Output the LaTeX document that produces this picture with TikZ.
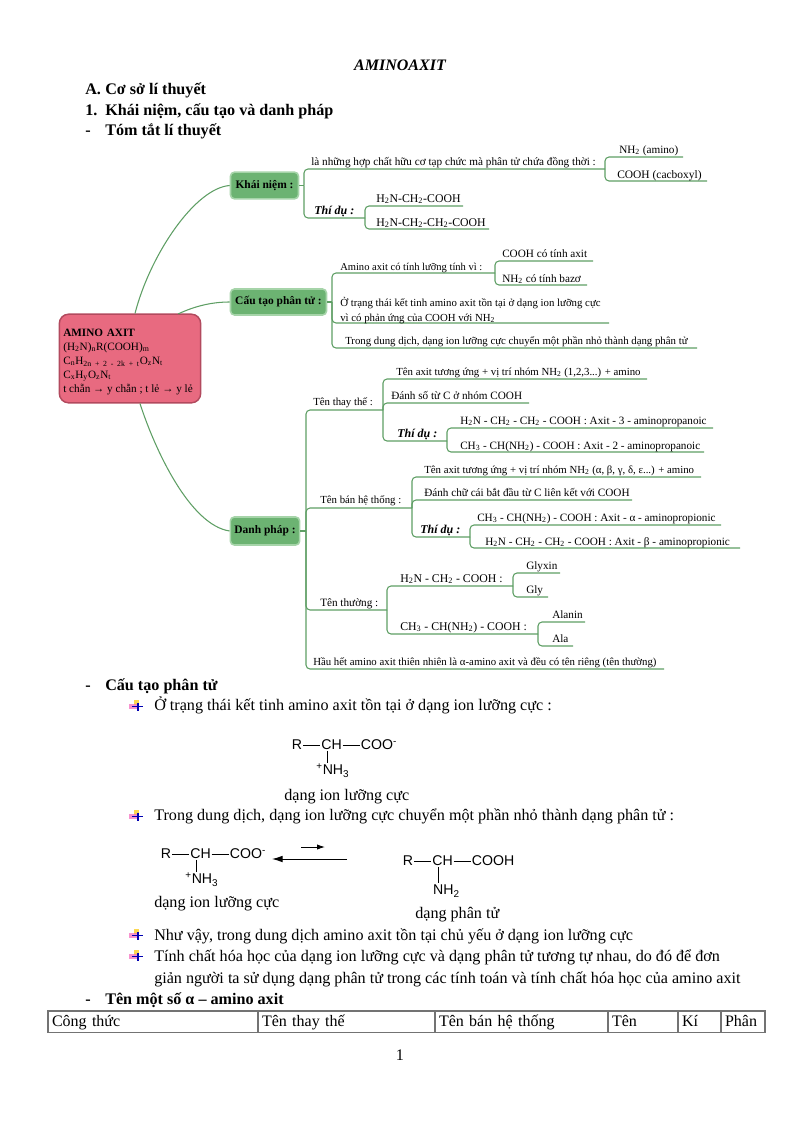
\documentclass[tikz,border=0pt]{standalone}
\usepackage{fontspec}
\setmainfont{Liberation Serif}
\newfontfamily\chemfont{Liberation Sans}
\usetikzlibrary{positioning, arrows.meta, shapes.geometric}
\definecolor{mapgreen}{HTML}{5E9E64}
\definecolor{topicfill}{HTML}{6CB372}
\definecolor{topicrim}{HTML}{A6D4A9}
\definecolor{rootfill}{HTML}{E86A80}
\definecolor{rootrim}{HTML}{B24A5E}

\begin{document}
\begin{tikzpicture}[
        x=0.75pt, y=-0.75pt,
        node distance=6pt and 6pt,
        topic/.style={rectangle, draw=topicrim, fill=topicfill, line width=1.2pt, rounded corners=3pt, inner sep=0pt, font=\fontsize{8.6}{10}\selectfont\bfseries},
        root/.style={rectangle, draw=rootrim, fill=rootfill, line width=1.1pt, rounded corners=7pt, minimum width=106pt, minimum height=66.5pt, inner sep=3pt, align=left, text width=100pt, font=\fontsize{8.4}{10.5}\selectfont},
        link/.style={draw=mapgreen, line width=0.8pt, rounded corners=3pt},
        curve/.style={draw=mapgreen, line width=0.8pt},
        leaf/.style={anchor=base west, inner sep=0pt, font=\fontsize{8.4}{11}\selectfont},
        narrowleaf/.style={leaf, font=\fontsize{8.1}{11}\selectfont},
        chemleaf/.style={leaf, font=\fontsize{8.85}{11}\selectfont},
        eg/.style={leaf, font=\fontsize{9}{11}\selectfont\bfseries\itshape},
        body/.style={anchor=base west, inner sep=0pt, font=\fontsize{12.1}{14}\selectfont},
        head/.style={body, font=\fontsize{12.1}{14}\selectfont\bfseries},
        chem/.style={inner sep=0.5pt, font=\fontsize{10.6}{12}\chemfont},
        bond/.style={line width=0.5pt},
        eqarrow/.style={-{Latex[length=8pt, width=5pt]}, line width=0.7pt},
        cell/.style={draw=black!55, line width=1pt, outer sep=0pt, inner xsep=3pt, inner ysep=0pt, text width=#1, text height=9.5pt, text depth=3pt, minimum height=16pt, align=left, font=\fontsize{12}{14}\selectfont},
        tiny mark/.pic={
            \fill[yellow!60!orange, opacity=0.7] (-4,-7) rectangle (1,-2);
            \fill[magenta!60, opacity=0.7] (-9,-3) rectangle (0,2.5);
            \fill[blue!70!black] (-0.8,-4) rectangle (0.8,4);
            \fill[blue!70!black] (-6,-0.6) rectangle (5,0.6);
        }
    ]
    \useasboundingbox (0,0) rectangle (800,1131);

    % Page title and headings
    \node[head, anchor=base, font=\fontsize{12}{14}\selectfont\bfseries\itshape] (title) at (400,70) {AMINOAXIT};
    \node[head] (numA) at (85,94) {A.};
    \node[head] (headA) at (105,94) {Cơ sở lí thuyết};
    \node[head] (num1) at (85,115) {1.};
    \node[head] (head1) at (105,115) {Khái niệm, cấu tạo và danh pháp};
    \node[head] (dash1) at (85,135) {-};
    \node[head] (head2) at (105,135) {Tóm tắt lí thuyết};

    % Centre of the map
    \node[root] (amino) at (130,358.5) {\rule{0pt}{10.5pt}\textbf{AMINO AXIT}\\(H\textsubscript{2}N)\textsubscript{n}R(COOH)\textsubscript{m}\\C\textsubscript{n}H\textsubscript{2n + 2 - 2k + t}O\textsubscript{z}N\textsubscript{t}\\C\textsubscript{x}H\textsubscript{y}O\textsubscript{z}N\textsubscript{t}\\\mbox{\spaceskip=0.25em t chẵn → y chẵn ; t lẻ → y lẻ}};

    % Three topics
    \node[topic, minimum width=51pt, minimum height=20pt] (khainiem) at (264.5,185.5) {Khái niệm :};
    \node[topic, minimum width=72pt, minimum height=19.5pt] (cautao) at (278.5,302) {Cấu tạo phân tử :};
    \node[topic, minimum width=52pt, minimum height=21pt] (danhphap) at (265,531) {Danh pháp :};

    \draw[curve] (amino.north) ++(5,0) .. controls (150,255) and (195,188) .. (khainiem.west);
    \draw[curve] (178,314) .. controls (195,306) and (212,302) .. (cautao.west);
    \draw[curve] (amino.south) ++(10,0) .. controls (155,450) and (190,525) .. (danhphap.west);

    % Khai niem
    \coordinate (kn spine) at (304,185.5);
    \coordinate (kn a) at (605,169);
    \coordinate (kn b) at (365,218);
    \coordinate (nh2 end) at (683,157);
    \coordinate (cooh end) at (707,181);
    \coordinate (gly1 end) at (463,206);
    \coordinate (gly2 end) at (489,229);
    \draw[link] (khainiem.east) -- (kn spine);
    \draw[link] (kn spine) |- (kn a);
    \draw[link] (kn spine) |- (kn b);
    \draw[link] (kn a) |- (nh2 end);
    \draw[link] (kn a) |- (cooh end);
    \draw[link] (kn b) |- (gly1 end);
    \draw[link] (kn b) |- (gly2 end);
    \node[leaf] (kn a txt) at (311,165) {là những hợp chất hữu cơ tạp chức mà phân tử chứa đồng thời :};
    \node[leaf] (nh2 txt) at (619,153) {NH\textsubscript{2} (amino)};
    \node[leaf, font=\fontsize{8.6}{11}\selectfont] (cooh txt) at (617,178) {COOH (cacboxyl)};
    \node[eg] (kn b txt) at (314,214) {Thí dụ :};
    \node[chemleaf] (gly1 txt) at (376,202) {H\textsubscript{2}N-CH\textsubscript{2}-COOH};
    \node[chemleaf] (gly2 txt) at (376,226) {H\textsubscript{2}N-CH\textsubscript{2}-CH\textsubscript{2}-COOH};

    % Cau tao phan tu
    \coordinate (ct spine) at (332,302);
    \coordinate (ct a) at (495,273);
    \coordinate (ct b) at (609,323);
    \coordinate (ct c) at (697,348);
    \coordinate (axit end) at (593,261);
    \coordinate (bazo end) at (587,285);
    \draw[link] (cautao.east) -- (ct spine);
    \draw[link] (ct spine) |- (ct a);
    \draw[link] (ct spine) -- (ct spine |- ct b) -- (ct b);
    \draw[link] (ct spine) |- (ct c);
    \draw[link] (ct a) |- (axit end);
    \draw[link] (ct a) |- (bazo end);
    \node[narrowleaf, font=\fontsize{7.9}{11}\selectfont] (ct a txt) at (340,270) {Amino axit có tính lưỡng tính vì :};
    \node[leaf] (axit txt) at (502,257) {COOH có tính axit};
    \node[leaf] (bazo txt) at (502,282) {NH\textsubscript{2} có tính bazơ};
    \node[narrowleaf] (ct b txt) at (340,306) {Ở trạng thái kết tinh amino axit tồn tại ở dạng ion lưỡng cực};
    \node[narrowleaf] (ct b txt2) at (340,321) {vì có phản ứng của COOH với NH\textsubscript{2}};
    \node[narrowleaf] (ct c txt) at (345,344) {Trong dung dịch, dạng ion lưỡng cực chuyển một phần nhỏ thành dạng phân tử};

    % Danh phap
    \coordinate (dp spine) at (306,531);
    \coordinate (tt) at (383,410);
    \coordinate (bh) at (412,508);
    \coordinate (th) at (387,610);
    \coordinate (hh end) at (664,669);
    \draw[link] (danhphap.east) -- (dp spine);
    \draw[link] (dp spine) |- (tt);
    \draw[link] (dp spine) -- (dp spine |- bh) -- (bh);
    \draw[link] (dp spine) -- (dp spine |- th) -- (th);
    \draw[link] (dp spine) |- (hh end);
    \node[narrowleaf] (tt txt) at (313,405) {Tên thay thế :};
    \node[narrowleaf] (bh txt) at (320,503) {Tên bán hệ thống :};
    \node[leaf] (th txt) at (320,606) {Tên thường :};
    \node[narrowleaf] (hh txt) at (313,665) {Hầu hết amino axit thiên nhiên là α-amino axit và đều có tên riêng (tên thường)};

    % Ten thay the
    \coordinate (tt a end) at (647,379);
    \coordinate (tt b end) at (529,403);
    \coordinate (tt c) at (447,441);
    \coordinate (tt c1 end) at (713,428);
    \coordinate (tt c2 end) at (704,452);
    \draw[link] (tt) |- (tt a end);
    \draw[link] (tt) -- (tt |- tt b end) -- (tt b end);
    \draw[link] (tt) |- (tt c);
    \draw[link] (tt c) |- (tt c1 end);
    \draw[link] (tt c) |- (tt c2 end);
    \node[narrowleaf] (tt a txt) at (396,375) {Tên axit tương ứng + vị trí nhóm NH\textsubscript{2} (1,2,3...) + amino};
    \node[leaf] (tt b txt) at (391,399) {Đánh số từ C ở nhóm COOH};
    \node[eg] (tt c txt) at (397,437) {Thí dụ :};
    \node[leaf] (tt c1 txt) at (460,424) {H\textsubscript{2}N - CH\textsubscript{2} - CH\textsubscript{2} - COOH : Axit - 3 - aminopropanoic};
    \node[leaf] (tt c2 txt) at (460,449) {CH\textsubscript{3} - CH(NH\textsubscript{2}) - COOH : Axit - 2 - aminopropanoic};

    % Ten ban he thong
    \coordinate (bh a end) at (701,477);
    \coordinate (bh b end) at (632,500);
    \coordinate (bh c) at (470,537);
    \coordinate (bh c1 end) at (721,525);
    \coordinate (bh c2 end) at (740,548);
    \draw[link] (bh) |- (bh a end);
    \draw[link] (bh) -- (bh |- bh b end) -- (bh b end);
    \draw[link] (bh) |- (bh c);
    \draw[link] (bh c) |- (bh c1 end);
    \draw[link] (bh c) |- (bh c2 end);
    \node[narrowleaf] (bh a txt) at (424,473) {Tên axit tương ứng + vị trí nhóm NH\textsubscript{2} (α, β, γ, δ, ε...) + amino};
    \node[leaf] (bh b txt) at (424,496) {Đánh chữ cái bắt đầu từ C liên kết với COOH};
    \node[eg] (bh c txt) at (420,533) {Thí dụ :};
    \node[leaf] (bh c1 txt) at (477,521) {CH\textsubscript{3} - CH(NH\textsubscript{2}) - COOH : Axit - α - aminopropionic};
    \node[leaf] (bh c2 txt) at (485,545) {H\textsubscript{2}N - CH\textsubscript{2} - CH\textsubscript{2} - COOH : Axit - β - aminopropionic};

    % Ten thuong
    \coordinate (th a) at (513,586);
    \coordinate (th b) at (538,634);
    \coordinate (glyxin end) at (560,573);
    \coordinate (gly end) at (548,597);
    \coordinate (alanin end) at (585,622);
    \coordinate (ala end) at (573,646);
    \draw[link] (th) |- (th a);
    \draw[link] (th) |- (th b);
    \draw[link] (th a) |- (glyxin end);
    \draw[link] (th a) |- (gly end);
    \draw[link] (th b) |- (alanin end);
    \draw[link] (th b) |- (ala end);
    \node[chemleaf] (th a txt) at (400,582) {H\textsubscript{2}N - CH\textsubscript{2} - COOH :};
    \node[chemleaf] (th b txt) at (400,630) {CH\textsubscript{3} - CH(NH\textsubscript{2}) - COOH :};
    \node[leaf] (glyxin txt) at (526,569) {Glyxin};
    \node[leaf] (gly txt) at (526,593) {Gly};
    \node[leaf] (alanin txt) at (552,618) {Alanin};
    \node[leaf] (ala txt) at (552,642) {Ala};

    % Section on structure
    \node[head] (dash2) at (85,690) {-};
    \node[head] (head3) at (105,690) {Cấu tạo phân tử};
    \pic at (138,706.5) {tiny mark};
    \node[body] (p1) at (154,710) {Ở trạng thái kết tinh amino axit tồn tại ở dạng ion lưỡng cực :};

    % Ion form, centre
    \node[chem] (r1) at (297,745) {R};
    \node[chem, right=13pt of r1] (ch1) {CH};
    \node[chem, right=13pt of ch1] (coo1) {COO\textsuperscript{-}};
    \node[chem, below=9pt of ch1, xshift=1pt] (nh1) {\textsuperscript{+}NH\textsubscript{3}};
    \draw[bond] (r1) -- (ch1);
    \draw[bond] (ch1) -- (coo1);
    \draw[bond] ([xshift=-3.5pt]ch1.south) -- +(0,12);
    \node[body] (ion1) at (284,800) {dạng ion lưỡng cực};

    \pic at (138,816.5) {tiny mark};
    \node[body] (p2) at (154,820) {Trong dung dịch, dạng ion lưỡng cực chuyển một phần nhỏ thành dạng phân tử :};

    % Ion form, left
    \node[chem] (r2) at (166,854) {R};
    \node[chem, right=13pt of r2] (ch2) {CH};
    \node[chem, right=13pt of ch2] (coo2) {COO\textsuperscript{-}};
    \node[chem, below=9pt of ch2, xshift=1pt] (nh2) {\textsuperscript{+}NH\textsubscript{3}};
    \draw[bond] (r2) -- (ch2);
    \draw[bond] (ch2) -- (coo2);
    \draw[bond] ([xshift=-3.5pt]ch2.south) -- +(0,12);
    \node[body] (ion2) at (154,907) {dạng ion lưỡng cực};

    % Equilibrium arrows
    \coordinate (eq a) at (347,859);
    \coordinate (eq b) at (272,859);
    \coordinate (eq c) at (301,847);
    \coordinate (eq d) at (325,847);
    \draw[eqarrow] (eq a) -- (eq b);
    \draw[eqarrow, {-Latex[length=6pt, width=4pt]}] (eq c) -- (eq d);

    % Molecular form
    \node[chem] (r3) at (408,861) {R};
    \node[chem, right=13pt of r3] (ch3) {CH};
    \node[chem, right=13pt of ch3] (cooh3) {COOH};
    \node[chem, below=13pt of ch3, xshift=3pt] (nh3) {NH\textsubscript{2}};
    \draw[bond] (r3) -- (ch3);
    \draw[bond] (ch3) -- (cooh3);
    \draw[bond] ([xshift=-3.5pt]ch3.south) -- +(0,16);
    \node[body] (mol) at (415,918) {dạng phân tử};

    \pic at (138,935.5) {tiny mark};
    \node[body] (p3) at (154,940) {Như vậy, trong dung dịch amino axit tồn tại chủ yếu ở dạng ion lưỡng cực};
    \pic at (138,956.5) {tiny mark};
    \node[body] (p4) at (154,961) {Tính chất hóa học của dạng ion lưỡng cực và dạng phân tử tương tự nhau, do đó để đơn};
    \node[body] (p5) at (154,983) {giản người ta sử dụng dạng phân tử trong các tính toán và tính chất hóa học của amino axit};

    % Names table
    \node[head] (dash3) at (85,1004) {-};
    \node[head] (head4) at (105,1004) {Tên một số α – amino axit};
    \node[cell=151.5pt, anchor=north west] (col1) at (48,1011) {Công thức};
    \node[cell=126.75pt, right=0pt of col1] (col2) {Tên thay thế};
    \node[cell=123.75pt, right=0pt of col2] (col3) {Tên bán hệ thống};
    \node[cell=46.5pt, right=0pt of col3] (col4) {Tên};
    \node[cell=26.25pt, right=0pt of col4] (col5) {Kí};
    \node[cell=27pt, right=0pt of col5] (col6) {Phân};

    \node[body, anchor=base] (pageno) at (400,1060) {1};
    \end{tikzpicture}
\end{document}
